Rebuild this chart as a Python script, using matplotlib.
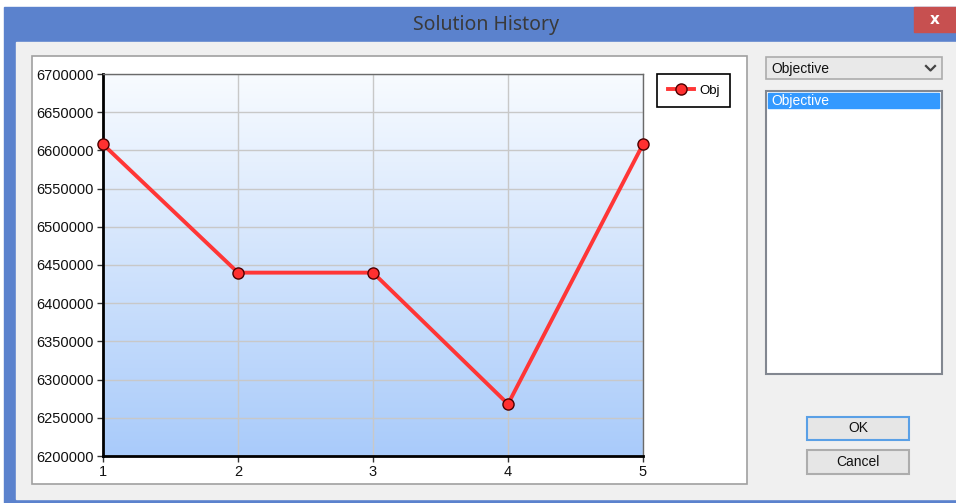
import numpy as np
import matplotlib
matplotlib.use("Agg")
import matplotlib.pyplot as plt
from matplotlib.patches import Rectangle
from matplotlib.colors import LinearSegmentedColormap
from matplotlib.ticker import StrMethodFormatter

# data
iterations = [1, 2, 3, 4, 5]
objective = [6608000, 6440000, 6440000, 6268000, 6608000]
y_ticks = list(range(6200000, 6700001, 50000))
series_name = "Obj"
selector_items = ["Objective"]

W, H = 956, 503
plt.rcParams['font.family'] = ['Liberation Sans', 'DejaVu Sans']

fig = plt.figure(figsize=(W / 100, H / 100), dpi=100)
fig.patch.set_facecolor("white")

# dialog chrome drawn in pixel coordinates
bg = fig.add_axes([0, 0, 1, 1])
bg.set_xlim(0, W)
bg.set_ylim(H, 0)
bg.axis("off")


def box(x, y, w, h, face, edge=None, lw=1.0):
    bg.add_patch(Rectangle((x, y), w, h, facecolor=face,
                           edgecolor=edge if edge else face, linewidth=lw))


box(4, 7, W - 4, H - 7, "#5B82CD")
box(16, 42, W - 16, 457, "#F0F0F0")
box(914, 7, 42, 25, "#C75050")
bg.text(935, 19, "x", color="white", fontsize=11, fontweight="bold",
        family=["DejaVu Sans"], ha="center", va="center")
bg.text(486, 25, "Solution History", color="#3A3A3A", fontsize=14,
        family=["Noto Sans", "DejaVu Sans"], ha="center", va="center")

# chart panel
box(32, 56, 715, 428, "white", "#A0A0A0", 1.2)

# dropdown + list
box(766, 57, 176, 22, "#E9E9E9", "#ACACAC", 1.2)
bg.text(771, 68.5, selector_items[0], fontsize=10, color="#111111",
        ha="left", va="center")
bg.plot([926, 930.5, 935], [66, 70.5, 66], color="#444444", lw=1.6)
box(766, 91, 176, 283, "white", "#828790", 1.5)
box(768, 93, 171, 15, "#3399FF")
for i, item in enumerate(selector_items):
    bg.text(771, 100.5 + i * 15, item, fontsize=10, color="white",
            ha="left", va="center")

# buttons
box(807, 417, 102, 23, "#E6E6E6", "#5AA0E6", 1.5)
bg.text(858, 428.5, "OK", fontsize=10, color="#111111", ha="center", va="center")
box(807, 450, 102, 24, "#E6E6E6", "#ADADAD", 1.5)
bg.text(858, 462, "Cancel", fontsize=10, color="#111111", ha="center", va="center")

# plot area
ax = fig.add_axes([103 / W, 1 - 456 / H, 540 / W, 382 / H])
grad = LinearSegmentedColormap.from_list("bg", ["#A9CBFA", "#F8FBFF"])
ax.imshow(np.linspace(0, 1, 256).reshape(-1, 1), cmap=grad, aspect="auto",
          origin="lower", extent=[1, 5, y_ticks[0], y_ticks[-1]], zorder=-1)

ax.plot(iterations, objective, color="#FF3636", lw=2.8, marker="o", ms=8,
        mfc="#FF3030", mec="#4A0000", mew=1.0, label=series_name,
        clip_on=False, zorder=3)

ax.set_xlim(iterations[0], iterations[-1])
ax.set_ylim(y_ticks[0], y_ticks[-1])
ax.set_xticks(iterations)
ax.set_yticks(y_ticks)
ax.yaxis.set_major_formatter(StrMethodFormatter("{x:.0f}"))
ax.set_axisbelow(True)
ax.grid(color="#C8C8C8", lw=1.0)

for side in ("left", "bottom"):
    ax.spines[side].set_color("black")
    ax.spines[side].set_linewidth(2.0)
for side in ("top", "right"):
    ax.spines[side].set_color("#6A6A6A")
    ax.spines[side].set_linewidth(1.0)

ax.tick_params(axis="both", direction="out", length=4.5, width=1.0,
               color="#333333", labelsize=10.5, labelcolor="#111111", pad=2)

leg = ax.legend(loc="upper left", bbox_to_anchor=(657 / W, 1 - 74 / H),
                bbox_transform=fig.transFigure, frameon=True, fancybox=False,
                edgecolor="black", framealpha=1, fontsize=9.5,
                handlelength=2.0, borderpad=0.8, handletextpad=0.4,
                borderaxespad=0)
leg.get_frame().set_linewidth(1.2)

fig.savefig("out.png", dpi=100)
